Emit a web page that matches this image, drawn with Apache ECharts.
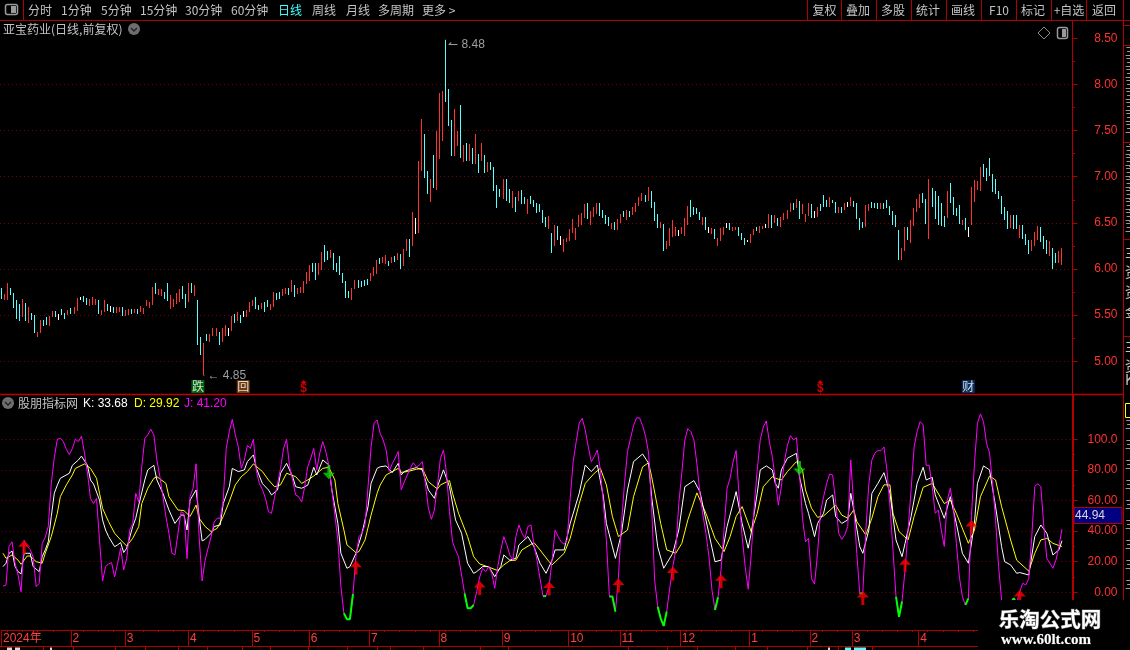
<!DOCTYPE html>
<html><head><meta charset="utf-8">
<style>html,body{margin:0;padding:0;background:#000;overflow:hidden}#c{width:1130px;height:650px}</style>
<script src="https://cdn.jsdelivr.net/npm/echarts@6/dist/echarts.min.js"></script>
</head><body><div id="c"></div>
<script>
const barHigh=[
5.79,5.73,5.85,5.79,5.74,5.66,5.62,5.68,5.63,5.59,
5.52,5.50,5.32,5.45,5.45,5.48,5.49,5.55,5.55,5.51,
5.57,5.52,5.56,5.58,5.59,5.69,5.70,5.71,5.69,5.67,
5.70,5.68,5.66,5.56,5.66,5.62,5.60,5.59,5.59,5.59,
5.59,5.56,5.57,5.57,5.57,5.57,5.60,5.58,5.66,5.64,
5.81,5.85,5.78,5.78,5.75,5.85,5.72,5.68,5.74,5.78,
5.82,5.73,5.85,5.85,5.83,5.66,5.26,5.20,5.30,5.30,
5.36,5.36,5.32,5.36,5.39,5.36,5.49,5.51,5.53,5.50,
5.55,5.56,5.64,5.66,5.70,5.61,5.63,5.64,5.66,5.62,
5.75,5.74,5.75,5.78,5.79,5.79,5.88,5.83,5.79,5.80,
5.87,5.97,6.04,6.06,6.07,6.06,6.18,6.26,6.20,6.21,
6.17,6.06,6.14,5.96,5.87,5.76,5.79,5.88,5.88,5.87,
5.88,5.89,5.96,6.02,6.10,6.12,6.13,6.15,6.09,6.13,
6.14,6.17,6.16,6.22,6.32,6.32,6.62,6.55,7.17,7.62,
7.46,7.06,6.98,7.24,7.50,7.91,7.93,8.48,7.95,7.61,
7.73,7.50,7.78,7.34,7.37,7.35,7.31,7.46,7.25,7.36,
7.23,7.16,7.16,7.11,6.91,6.87,6.97,6.97,6.87,6.85,
6.78,6.85,6.86,6.78,6.76,6.79,6.75,6.71,6.70,6.64,
6.56,6.57,6.39,6.48,6.47,6.36,6.33,6.34,6.43,6.54,
6.44,6.58,6.61,6.70,6.72,6.63,6.67,6.72,6.71,6.64,
6.58,6.56,6.50,6.51,6.54,6.60,6.63,6.64,6.63,6.67,
6.72,6.78,6.82,6.80,6.89,6.85,6.73,6.60,6.51,6.49,
6.30,6.44,6.53,6.45,6.42,6.45,6.55,6.68,6.75,6.67,
6.66,6.62,6.56,6.56,6.45,6.44,6.43,6.34,6.44,6.46,
6.50,6.50,6.46,6.46,6.45,6.39,6.34,6.31,6.38,6.43,
6.45,6.47,6.47,6.49,6.60,6.59,6.58,6.55,6.56,6.61,
6.64,6.72,6.72,6.76,6.74,6.70,6.60,6.72,6.70,6.63,
6.67,6.70,6.80,6.75,6.78,6.75,6.73,6.67,6.67,6.72,
6.73,6.78,6.74,6.72,6.55,6.51,6.69,6.70,6.73,6.72,
6.72,6.72,6.72,6.75,6.68,6.63,6.58,6.42,6.23,6.45,
6.45,6.53,6.66,6.76,6.81,6.82,6.76,6.97,6.88,6.85,
6.79,6.72,6.57,6.84,6.93,6.78,6.66,6.69,6.53,6.55,
6.45,6.89,6.96,6.95,7.11,7.14,7.09,7.20,7.03,6.97,
6.84,6.79,6.67,6.63,6.59,6.59,6.59,6.48,6.48,6.38,
6.31,6.31,6.40,6.47,6.46,6.36,6.31,6.30,6.23,6.17,
6.19,6.23];
const barLow=[
5.67,5.67,5.67,5.71,5.58,5.45,5.44,5.48,5.43,5.42,
5.44,5.31,5.27,5.31,5.39,5.39,5.38,5.48,5.48,5.45,
5.50,5.45,5.51,5.52,5.51,5.55,5.67,5.64,5.61,5.59,
5.61,5.61,5.51,5.51,5.53,5.54,5.54,5.52,5.53,5.54,
5.49,5.49,5.51,5.52,5.53,5.52,5.53,5.52,5.59,5.57,
5.62,5.73,5.72,5.70,5.67,5.66,5.57,5.59,5.62,5.64,
5.68,5.58,5.64,5.74,5.71,5.17,5.07,4.85,5.22,5.21,
5.27,5.27,5.18,5.21,5.27,5.27,5.33,5.41,5.43,5.41,
5.48,5.48,5.53,5.59,5.57,5.56,5.56,5.53,5.58,5.55,
5.59,5.66,5.67,5.70,5.72,5.71,5.75,5.70,5.73,5.73,
5.74,5.84,5.87,5.96,5.89,5.93,5.99,6.08,6.10,6.12,
5.99,5.96,5.93,5.85,5.69,5.68,5.66,5.78,5.79,5.80,
5.82,5.83,5.87,5.92,5.95,6.06,6.06,6.05,6.04,6.06,
6.07,6.09,6.00,6.04,6.19,6.13,6.25,6.38,6.39,7.06,
6.98,6.81,6.73,6.88,6.86,7.19,7.39,7.81,7.55,7.22,
7.22,7.34,7.21,7.16,7.17,7.17,7.14,7.14,7.04,7.16,
7.04,7.05,7.07,6.85,6.66,6.78,6.75,6.73,6.72,6.67,
6.62,6.74,6.71,6.70,6.60,6.70,6.67,6.60,6.61,6.50,
6.45,6.43,6.17,6.25,6.32,6.26,6.19,6.30,6.30,6.39,
6.31,6.45,6.48,6.55,6.55,6.48,6.56,6.60,6.57,6.55,
6.48,6.46,6.44,6.42,6.42,6.50,6.56,6.53,6.57,6.58,
6.62,6.68,6.73,6.72,6.74,6.67,6.52,6.45,6.44,6.20,
6.21,6.25,6.35,6.35,6.35,6.37,6.35,6.47,6.57,6.58,
6.60,6.53,6.47,6.42,6.38,6.37,6.32,6.25,6.30,6.37,
6.45,6.42,6.42,6.43,6.35,6.31,6.26,6.29,6.28,6.36,
6.41,6.39,6.44,6.45,6.45,6.45,6.49,6.46,6.45,6.53,
6.54,6.62,6.64,6.66,6.55,6.59,6.51,6.58,6.55,6.55,
6.56,6.62,6.67,6.67,6.67,6.72,6.61,6.60,6.60,6.64,
6.68,6.68,6.67,6.55,6.42,6.45,6.45,6.62,6.66,6.67,
6.66,6.66,6.66,6.66,6.58,6.48,6.45,6.09,6.10,6.19,
6.31,6.28,6.47,6.62,6.66,6.71,6.49,6.32,6.67,6.55,
6.48,6.47,6.45,6.55,6.71,6.58,6.57,6.48,6.48,6.42,
6.34,6.48,6.72,6.85,6.85,7.00,6.95,7.01,6.84,6.81,
6.75,6.60,6.53,6.43,6.45,6.44,6.44,6.34,6.33,6.26,
6.16,6.19,6.25,6.32,6.30,6.22,6.16,6.14,6.00,6.06,
6.06,6.05];
const barTone=
"crrccccrcr"+"ccrrccrrcw"+"ccrcrrwccr"+"rrcrrcwcrr"+"crrcrcrrrr"+
"rcrrccrrrr"+"ccrcrccrcr"+"rrcrrwrcrc"+"wrrrccrccr"+"rccrrcrcrr"+
"rrrccrrccr"+"ccccccrrcc"+"ccrrrcrrcr"+"crcrrcrwrr"+"ccrcrrrccc"+
"rrcrcrcrcr"+"crccccrccr"+"crccrccccc"+"crcrcwrrrr"+"rrrrcrrrcc"+
"ccrcrrcrcr"+"rrrcrcccrc"+"rrrrwrrrcc"+"ccrcwrcrrr"+"wcrrcccwrr"+
"crrwrcrcrr"+"rrcrcrrrcw"+"rcccrccrcr"+"wrccccrrcc"+"crccccccrr"+
"crrrrccrcc"+"cccrccccrc"+"wrrrrccccc"+"ccccrccrcc"+"crrrcccrccrr";

const kdjJ=[
4,4.8,30,33,19,11.3,0.4,34,30,28,
23,3.7,5.9,32,36,43,71,88,100,100.6,
98.5,93.5,90,94,100,98.5,102,91,78,61.4,
58,61.4,34,7.4,16.8,18.5,19.4,10,19,29,
14.6,22,40.7,45,64.7,59,82,100.6,103,106.5,
103,86.5,75.6,62.5,49.5,38.6,25.5,24.4,38.6,52.7,
51.6,22,62.5,68,84,36.4,7.4,21,29,36.4,
46,48.4,48.4,60.3,94,105,113,103,95,81,
86.5,96,94,100,79,71,67,61.4,52.7,51.6,
62,71,81,94,100,82,73.4,63.6,62.5,59,
69,82,87.6,94,80,91,98.5,92,83,67,
50.5,34,3.7,-13.7,-17.6,-17.6,-1,23.3,36.4,38.6,
44,69,95,110.5,112.6,104,99.6,93,79,84,
87.6,92,67,72,76.7,81,84.7,82,83,85.4,
71,55,47.7,53.8,70,87.6,93,78,52.7,33,
27.7,23.3,11.3,-0.7,-10.5,-10.5,-8.3,0.4,10,15.7,
13.5,16.8,12.4,2.6,16.8,27.7,36.4,31,24.4,21,
36.4,44,38.6,35.3,43,44,31,21,9,-2.6,
-2.4,3.7,21,40.7,36.4,33,31.4,34.2,61.4,85.4,
98.5,110.5,113.7,106,95,85.4,88.7,93,80,58,
34,-2.8,-2.8,-12.6,10,45,71,92,100.6,109,
114,114,109,102,91,56,8,-9.4,-17,-22,
-12.6,2.6,16.8,27.7,58,78,99.6,107,105,99.6,
84,64.7,50.5,38.6,23.3,1.5,-11.5,-3.3,14.6,40.7,
68,74.5,85.4,92.6,62.5,36.4,16.8,2,24.4,56,
80,99.6,108,112,98.5,88.7,73.4,57,69,85.4,
96,102.4,99.6,101,78,48.4,33,35.3,9,5.4,
25.5,52.7,62.5,71,77.3,76.7,59,38.6,34.6,37.5,
43,86.5,56,25.5,-1,-0.5,40.7,71,86.5,91,
92.6,92.6,95,80,56,27.7,-2.8,-16,-6,14.6,
40.7,67,95,105,111.5,109.4,83,83,69,51.6,
53.8,40.7,30,60,68,56,32,10,-2.8,-8.3,
-4,49.5,84,110.5,116.6,111.5,97.4,91,71,47.3,
16.8,-5,-16,-20,-8,-3.9,-7.2,0.4,5.9,4.8,
9,36.4,69,71,69,43,22,19,15.7,21,
30,41.2];
const kdjK=[
[0,16.8],[1,19],[2,25.5],[3,27],[4,16.8],[5,13.5],[6,12],[7,25.5],[8,25.5],[9,25.5],[10,16.8],[12,13.5],[13,23.3],[14,27.7],[15,33],[16,49.5],[17,64.7],[18,70],[19,74.5],[22,77.8],[23,83],[25,86.5],[26,89],[28,83],[29,73.4],[30,70.8],[32,60.3],[33,47.3],[34,40.7],[35,36.4],[37,29.8],[38,31],[39,32.5],[40,26],[41,28.8],[43,43],[44,48.4],[45,57],[47,73.4],[48,80],[50,83],[51,73.4],[53,64.7],[55,53.8],[57,45],[59,50.5],[60,50.5],[61,40.7],[62,60.3],[64,66.9],[65,49.5],[66,33.6],[67,34.6],[69,38.6],[70,43],[72,44],[73,58],[75,69],[76,81],[78,78.9],[80,80],[81,85.4],[83,89.8],[84,81],[86,71],[88,66.9],[89,63.6],[91,66.9],[92,77.8],[94,84.3],[96,75.6],[97,69],[99,68],[101,70],[102,75.6],[103,81.7],[104,76.7],[106,86.5],[108,83.2],[109,66.9],[111,45],[112,25.5],[114,15.7],[115,16.8],[117,25.5],[118,32],[119,38.6],[121,56],[122,71.2],[124,81],[125,82],
[127,82.6],[129,78.2],[131,84.3],[132,76.7],[133,78.9],[135,80.4],[137,81.5],[139,80],[141,66.9],[143,61.4],[144,69],[146,80],[148,69],[150,47.3],[152,38.6],[154,19],[156,12.4],[157,13.5],[159,16.8],[161,16.8],[163,10.2],[165,16.8],[166,24.4],[168,21],[170,22.2],[171,31],[174,36.4],[176,29.8],[178,19],[180,12.4],[182,21],[183,27.7],[186,27.7],[188,45],[191,64.7],[193,83.2],[195,78.9],[197,83.2],[199,62.5],[200,45],[202,29.8],[203,22.2],[205,38.6],[207,66.9],[209,85.4],[212,90.4],[214,84.3],[215,62.5],[217,29.8],[219,15.7],[222,25.5],[224,40.7],[226,69],[229,73],[231,65.8],[233,47.3],[236,20],[238,21],[240,43],[243,65.8],[245,45],[247,28.8],
[248,38.6],[250,64.7],[251,80],[253,82.6],[255,80],[256,71.2],[257,68],[258,80],[260,87.6],[262,89.8],[263,90.8],[264,75.6],[266,58],[267,51.6],[269,36.4],[270,45],[272,51.6],[273,60.3],[275,63.6],[276,49.5],[278,45],[280,47.3],[281,64.7],[282,53.8],[284,29.8],[285,25.5],[287,40.7],[288,64.7],[290,71.2],[292,78.2],[294,64.7],[296,34.2],[298,23.3],[299,32],[301,49.5],[303,71.2],[305,81.7],[306,73.4],[308,75.2],[309,63.6],[312,48.4],[314,62.5],[316,45],[318,25.5],[320,19],[322,45],[323,71.2],[325,82.6],[327,80],[329,56],[331,29.8],[332,20],[334,17.9],[336,12.4],[337,12.9],[340,11.3],[342,36.4],[344,44],[346,38.6],[348,24.4],[350,27.7],[351,33.68]];
const kdjD=[
[0,25.5],[1,22.2],[3,24.4],[5,21],[6,18.3],[8,23.7],[9,23.7],[11,20],[13,19],[14,25.5],[16,36.4],[18,51.6],[19,62.5],[21,70.2],[23,76.7],[24,81],[27,83.9],[29,81],[31,74.5],[32,64.7],[33,54.9],[35,46.2],[37,38.6],[39,34.2],[41,30.3],[43,35.3],[45,43],[46,58],[48,68],[50,74.5],[51,75.6],[54,71.2],[55,62.5],[58,53.8],[60,53.4],[62,49.5],[64,57],[65,48.4],[67,43],[69,39.7],[71,41.8],[73,49.5],[75,59.3],[77,70.2],[79,75.6],[81,78.9],[83,83.9],[86,78.9],[88,73.4],[90,69],[92,70.2],[94,77.8],[97,75.6],[99,71.2],[101,73.4],[103,76],[106,81],[108,81.7],[110,73.4],[111,58],[113,40.7],[114,31],[117,25.9],[118,26.6],[120,34.2],[122,50.5],[124,64.7],[125,70],
[127,76.7],[131,81],[132,78.4],[134,78.9],[137,80.4],[139,81],[141,72.3],[144,67.5],[145,70.2],[148,73],[149,64.7],[151,51.6],[154,36.4],[156,23.3],[158,18.5],[160,17.2],[164,14.2],[166,17.9],[168,20.7],[170,21],[172,27.7],[176,32.5],[178,27.7],[181,20],[182,17.9],[186,25.5],[188,35.3],[191,58],[193,71.2],[196,77.8],[198,81],[200,70.2],[202,49.5],[204,36.4],[207,40.7],[209,62.5],[212,82],[214,84.7],[215,75.6],[218,45],[220,27.7],[223,25.5],[225,32],[227,47.3],[230,65],[233,51.6],[236,35.3],[239,26.6],[241,36.4],[243,49.5],[245,56],[248,39.7],
[250,51.6],[252,69],[255,75.6],[256,74.5],[258,73.4],[260,78.9],[263,85.4],[265,80],[266,66.9],[268,54.9],[270,49],[272,49.9],[276,57],[278,50.5],[280,48.4],[282,53.8],[283,46.2],[286,37.5],[288,48.4],[290,62.5],[292,70.2],[294,70.2],[295,51.6],[297,39.7],[300,34.2],[302,49.5],[305,68.6],[308,71.2],[312,58],[314,60.3],[316,51.6],[320,32],[322,40.7],[324,62.5],[327,76],[329,73.4],[331,56],[334,34.2],[336,21],[340,13.9],[342,25.5],[344,34.2],[346,35.3],[348,32],[351,29.92]];
const jHook=[[113,-13.7],[114,-17.6],[115,-17.6],[116,-1],null,[153,-0.7],[154,-10.5],[155,-10.5],[156,-8.3],null,[179,-2.6],[180,-2.4],null,[201,-2.8],[202,-2.8],[203,-12.6],null,[217,-9.4],[218,-17],[219,-22],[220,-12.6],null,[236,-11.5],[237,-3.3],null,[284,-1],[285,-0.5],null,[296,-2.8],[297,-16],[298,-6],null,[319,-8.3],[320,-4],null,[334,-8],[335,-3.9],[336,-7.2]];
const buySignals=[[7,34],[117,20.7],[158,7.4],[181,7],[204,9],[222,16.8],[238,11.8],[285,0.9],[299,22.2],[321,47.3],[337,1.5]];
const sellSignals=[[108,73.9],[264,76.7]];
const monthStart=[0,23,41,62,83,102,122,145,166,188,205,225,248,268,282,304];
const monthNames=['2024年','2','3','4','5','6','7','8','9','10','11','12','1','2','3','4'];
const eventDays=[65,80,100,271,320];
const eventNames=['跌','回','$','$','财'];
const priceTicks=[5,5.5,6,6.5,7,7.5,8,8.5];
const priceMinorTicks=[5.25,5.75,6.25,6.75,7.25,7.75,8.25];
const priceGrid=[5,5.5,6,6.5,7,7.5,8];
const kdjTicks=[0,20,40,60,80,100];
const kdjTickNames=['0.00','20.00','40.00','60.00','80.00','100.0'];
const kdjMinorTicks=[10,30,50,70,90];
const leftTabs=['分时','1分钟','5分钟','15分钟','30分钟','60分钟','日线','周线','月线','多周期','更多 >'];
const rightTabs=['复权','叠加','多股','统计','画线','F10','标记','+自选','返回'];
const stockTitle='亚宝药业(日线,前复权)';
const indicatorName='股朋指标网';
const lastK=33.68,lastD=29.92,lastJ=41.20,crossValue=44.94;
const highMark=8.48,lowMark=4.85;
const totalSlots=355;

const RED='#ff3232',CYAN='#54ffff',LINE='#b00000',GRIDC='#7a0000',GRAY='#c4c4c4';
const NUMF='"Liberation Sans","Noto Sans CJK SC",sans-serif',CJK='"Noto Sans CJK SC","Liberation Sans",sans-serif';
const TONE={r:RED,c:CYAN,w:'#ffffff'};

const bars=barHigh.map((h,i)=>[i,h,barLow[i],barTone[i]]);
const cats=new Array(totalSlots).fill('');
monthStart.forEach((m,i)=>cats[m]=monthNames[i]);
const isMonth=(i)=>monthStart.indexOf(i)>=0;

// chrome
const g=[];
const T=(text,x,y,o={})=>g.push({type:'text',x,y,z:50,silent:true,style:Object.assign({text,fill:GRAY,font:'12px '+CJK,textVerticalAlign:'middle',textAlign:'left'},o)});
const L=(x1,y1,x2,y2,c=LINE,w=1)=>g.push({type:'line',z:50,silent:true,shape:{x1,y1,x2,y2},style:{stroke:c,lineWidth:w}});
const R=(x,y,width,height,fill,o={})=>g.push({type:'rect',z:o.z||50,silent:true,shape:Object.assign({x,y,width,height},o.shape||{}),style:Object.assign({fill},o.style||{})});
const leftX=[28,61,101,140,185,231,278,312,346,378,422];
leftTabs.forEach((t,i)=>T(t,leftX[i],10,{fill:t==='日线'?'#40ffff':GRAY}));
const rightX=[824.5,858,893,928,963,999,1033,1069,1104];
rightTabs.forEach((t,i)=>T(t,rightX[i],10,{textAlign:'center'}));
[807,841,876,911,946,981,1016,1051,1086,1123].forEach(x=>L(x+.5,0,x+.5,20));
L(0,20.5,1130,20.5); L(23.5,0,23.5,20);
R(5.5,4.5,12,10,'none',{shape:{r:2},style:{stroke:'#9a9a9a',lineWidth:1.5}}); R(11,6,5,7,'#9a9a9a');
T(stockTitle,3,29.5);
const chev=(cx,cy)=>{g.push({type:'circle',z:50,silent:true,shape:{cx,cy,r:6},style:{fill:'#6e6e6e'}});
 g.push({type:'polyline',z:51,silent:true,shape:{points:[[cx-3,cy-1],[cx,cy+2],[cx+3,cy-1]]},style:{stroke:'#222',fill:'none',lineWidth:1.4}});};
chev(134,29); chev(8,403);
g.push({type:'polygon',z:50,silent:true,shape:{points:[[1044,27],[1050,33],[1044,39],[1038,33]]},style:{fill:'none',stroke:'#8a8a8a'}});
R(1057.5,27.5,10,11,'none',{shape:{r:2},style:{stroke:'#9a9a9a',lineWidth:1.5}}); R(1062,29,4,8,'#9a9a9a');
L(0,394.5,1123,394.5,'#c00000',1.5);
T(indicatorName,18,403.5);
T('K: '+lastK.toFixed(2),83,403.5,{fill:'#fff',font:'12px '+NUMF});
T('D: '+lastD.toFixed(2),134,403.5,{fill:'#ff0',font:'12px '+NUMF});
T('J: '+lastJ.toFixed(2),184,403.5,{fill:'#f0f',font:'12px '+NUMF});
R(1074,507.5,48,16,'#000080',{style:{stroke:LINE,lineWidth:1}});
T(crossValue.toFixed(2),1075,515.5,{fill:'#d8d8d8',font:'12px '+NUMF});
// right side strip
L(1123.5,0,1123.5,650);
[25,45,142,239,336].forEach(y=>L(1123,y+.5,1130,y+.5));
const sideRows={'主':[252,346],'资':[272,292,366],'金':[312],'K':[380]};
for(const k in sideRows)sideRows[k].forEach(y=>T(k,1125,y,{font:'14px '+CJK}));
for(let y=52;y<140;y+=11)T('三',1125,y,{font:'11px '+CJK});
for(let y=150;y<236;y+=11)T('主',1125,y,{font:'11px '+CJK});
R(1125.5,403.5,6,14,'none',{style:{stroke:'#ff0',lineWidth:1}});
[425,445,465,485,505,525,545,565,585].forEach(y=>T('三',1125,y,{font:'11px '+CJK}));
// bottom second row
L(0,646.5,978,646.5);
[43,73,115,145,178,207,242,270,308,347,377,390,423,480,508,628,667,697,735,767,807,838,872].forEach(x=>L(x+.5,646,x+.5,650));
[[7,5],[15,5],[50,2],[828,2]].forEach(a=>R(a[0],647.5,a[1],2.5,'#ddd'));
R(845,647.5,6,2.5,CYAN);R(854,647.5,12,2.5,CYAN);
// watermark
R(978,600,152,50,'#000',{z:90});
g.push({type:'text',z:95,silent:true,x:1050,y:619,style:{text:'乐淘公式网',fill:'#fff',stroke:'#666',lineWidth:1,font:'bold 20.5px '+CJK,textAlign:'center',textVerticalAlign:'middle'}});
g.push({type:'text',z:95,silent:true,x:1046,y:640,style:{text:'www.60lt.com',fill:'#fff',stroke:'#555',lineWidth:.5,font:'bold 15px "Liberation Serif",serif',textAlign:'center',textVerticalAlign:'middle'}});

const hiddenX=(grid,extra)=>Object.assign({type:'category',gridIndex:grid,data:cats,boundaryGap:true,position:'bottom',axisLine:{show:false,onZero:false},axisTick:{show:false},axisLabel:{show:false},splitLine:{show:false}},extra||{});
const chart=echarts.init(document.getElementById('c'),null,{renderer:'canvas'});
chart.setOption({
 animation:false,backgroundColor:'#000',
 grid:[{left:0,width:1072.5,top:20.5,height:373.5},{left:0,width:1072.5,top:395,height:235}],
 xAxis:[
  hiddenX(0),
  hiddenX(1,{axisLine:{show:true,onZero:false,lineStyle:{color:LINE,width:1}},
    axisTick:{show:true,length:16,lineStyle:{color:LINE},interval:(i)=>isMonth(i)},
    axisLabel:{show:true,interval:(i)=>isMonth(i),align:'left',verticalAlign:'middle',margin:9,color:'#ff4040',fontFamily:NUMF,fontSize:12,hideOverlap:false}}),
  hiddenX(1,{axisTick:{show:true,length:2,lineStyle:{color:LINE},interval:(i)=>i%5===2&&!isMonth(i)&&!isMonth(i-1)&&!isMonth(i+1)}})
 ],
 yAxis:[
  {type:'value',gridIndex:0,position:'right',min:4.646,max:8.692,axisLine:{show:true,onZero:false,lineStyle:{color:LINE}},
   axisTick:{show:true,length:5,lineStyle:{color:LINE},customValues:priceTicks},
   axisLabel:{show:true,customValues:priceTicks,margin:45,align:'right',color:RED,fontFamily:NUMF,fontSize:12,formatter:v=>(+v).toFixed(2)},splitLine:{show:false}},
  {type:'value',gridIndex:0,position:'right',min:4.646,max:8.692,axisLine:{show:false,onZero:false},
   axisTick:{show:true,length:2.5,lineStyle:{color:LINE},customValues:priceMinorTicks},axisLabel:{show:false},splitLine:{show:false}},
  {type:'value',gridIndex:0,position:'right',min:4.646,max:8.692,axisLine:{show:false,onZero:false},
   axisTick:{show:false,customValues:priceGrid},axisLabel:{show:false},
   splitLine:{show:true,lineStyle:{color:GRIDC,type:[1,3],width:1}}},
  {type:'value',gridIndex:1,position:'right',min:-24.64,max:128.95,axisLine:{show:true,onZero:false,lineStyle:{color:LINE,width:2}},
   axisTick:{show:true,length:5,lineStyle:{color:LINE},customValues:kdjTicks},
   axisLabel:{show:true,customValues:kdjTicks,margin:45,align:'right',color:RED,fontFamily:NUMF,fontSize:12,formatter:v=>kdjTickNames[kdjTicks.indexOf(+v)]},
   splitLine:{show:true,lineStyle:{color:GRIDC,type:[1,3],width:1}}},
  {type:'value',gridIndex:1,position:'right',min:-24.64,max:128.95,axisLine:{show:false,onZero:false},
   axisTick:{show:true,length:2.5,lineStyle:{color:LINE},customValues:kdjMinorTicks},axisLabel:{show:false},splitLine:{show:false}}
 ],
 series:[
  {type:'custom',xAxisIndex:0,yAxisIndex:0,data:bars,silent:true,clip:false,encode:{x:0,y:[1,2]},
   renderItem:(p,api)=>{
     const i=api.value(0),top=api.coord([i,api.value(1)]),bot=api.coord([i,api.value(2)]);
     const x=Math.round(top[0]-.5);
     return {type:'rect',shape:{x,y:Math.round(top[1]),width:1,height:Math.max(1,Math.round(bot[1]-top[1]))},style:{fill:TONE[barTone[i]]}};
   }},
  {type:'scatter',xAxisIndex:0,yAxisIndex:0,symbol:'circle',symbolSize:1,itemStyle:{color:GRAY},silent:true,
   data:[{value:[147,highMark],label:{formatter:'↼'+' '+highMark.toFixed(2),offset:[-3,5]}},{value:[67,lowMark],label:{formatter:'← '+lowMark.toFixed(2),offset:[-2,1]}}],
   label:{show:true,position:'right',color:GRAY,fontFamily:NUMF,fontSize:12}},
  {type:'scatter',xAxisIndex:0,yAxisIndex:0,silent:true,z:5,
   data:eventDays.map((d,i)=>{
     const n=eventNames[i];
     const bg={'跌':'#007a10','回':'#8a4a14','财':'#0a3a78'}[n];
     return bg?{value:[d,4.726],symbol:'rect',symbolSize:13,itemStyle:{color:bg},label:{show:true,formatter:n,color:'#fff',fontSize:12,fontFamily:CJK,position:'inside'}}
       :{value:[d,4.726],symbol:'triangle',symbolSize:[6,3],symbolOffset:[0,-5],itemStyle:{color:'#f00'},label:{show:true,formatter:n,color:'#f00',fontSize:12,fontWeight:'bold',fontFamily:NUMF,position:'inside',offset:[0,7]}};
   })},
  {type:'line',name:'D',xAxisIndex:1,yAxisIndex:3,data:kdjD,showSymbol:false,symbol:'none',silent:true,lineStyle:{color:'#ffff00',width:1},z:3},
  {type:'line',name:'K',xAxisIndex:1,yAxisIndex:3,data:kdjK,showSymbol:false,symbol:'none',silent:true,lineStyle:{color:'#ffffff',width:1},z:3},
  {type:'line',name:'J',xAxisIndex:1,yAxisIndex:3,data:kdjJ.map((v,i)=>[i,v]),showSymbol:false,symbol:'none',silent:true,lineStyle:{color:'#ff00ff',width:1},z:4},
  {type:'line',name:'hook',xAxisIndex:1,yAxisIndex:3,data:jHook.map(p=>p||[null,null]),connectNulls:false,showSymbol:false,symbol:'none',silent:true,lineStyle:{color:'#00ff00',width:2},z:5},
  {type:'scatter',xAxisIndex:1,yAxisIndex:3,silent:true,z:6,data:buySignals,symbol:'path://M6 0L12 6.5H7.5V14H4.5V6.5H0Z',symbolSize:[12,14],symbolOffset:[0,7],itemStyle:{color:'#ff0000'}},
  {type:'scatter',xAxisIndex:1,yAxisIndex:3,silent:true,z:6,data:sellSignals,symbol:'path://M4.5 0H7.5V7.5H12L6 14L0 7.5H4.5Z',symbolSize:[12,14],symbolOffset:[0,-7],itemStyle:{color:'#00dd00'}}
 ],
 graphic:{elements:g}
});
</script></body></html>
